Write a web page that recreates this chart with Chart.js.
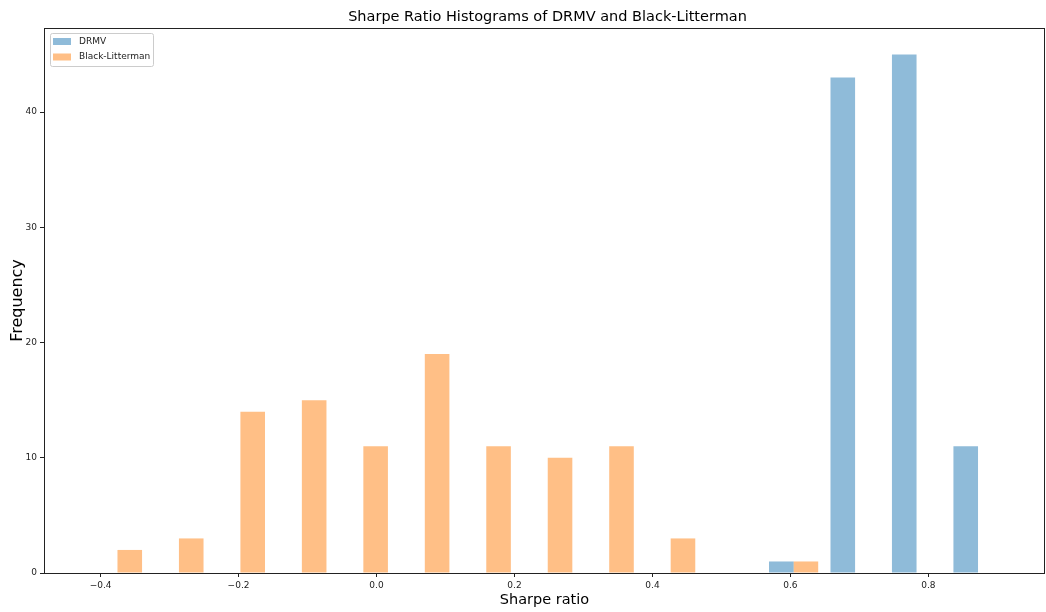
<!DOCTYPE html>
<html>
<head>
<meta charset="utf-8">
<script src="https://cdn.jsdelivr.net/npm/chart.js@4/dist/chart.umd.min.js"></script>
<style>
  html, body { margin: 0; padding: 0; background: #fff; }
  #wrap { width: 1046px; height: 612px; }
</style>
</head>
<body>
<div id="wrap"><canvas id="hist"></canvas></div>
<script>
// bin centres of the shared histogram bins (Sharpe ratio)
const binCenters = [-0.3755, -0.2864, -0.1973, -0.1082, -0.0191, 0.0700, 0.1591, 0.2482,
                    0.3373, 0.4264, 0.5155, 0.6046, 0.6937, 0.7828, 0.8719];
// counts per bin
const drmvCounts = [0, 0, 0, 0, 0, 0, 0, 0, 0, 0, 0, 1, 43, 45, 11];
const blCounts   = [2, 3, 14, 15, 11, 19, 11, 10, 11, 3, 0, 1, 0, 0, 0];
const seriesNames = ['DRMV', 'Black-Litterman'];
const xTickStep = 0.2;
const yTickStep = 10;

const FONT = "'DejaVu Sans', sans-serif";
const blue = 'rgba(31, 119, 180, 0.5)';
const orange = 'rgba(255, 127, 14, 0.5)';

const toPoints = (counts) => binCenters.map((x, i) => ({ x: x, y: counts[i] }));

// title, frame and legend drawn on top (matplotlib style)
const decorPlugin = {
    id: 'decor',
    afterDraw(chart) {
        const { ctx, chartArea: { left, right, top, bottom } } = chart;
        ctx.save();
        // frame
        ctx.strokeStyle = '#222';
        ctx.lineWidth = 1;
        ctx.strokeRect(left + 0.5, top + 0.5, right - left - 1, bottom - top);
        // title
        ctx.fillStyle = '#000';
        ctx.font = '14.5px ' + FONT;
        ctx.textAlign = 'center';
        ctx.textBaseline = 'middle';
        ctx.fillText('Sharpe Ratio Histograms of DRMV and Black-Litterman', (left + right) / 2 + 3, 17);
        // legend
        const lx = left + 6, ly = top + 5, lw = 103, lh = 33;
        ctx.beginPath();
        ctx.roundRect(lx + 0.5, ly + 0.5, lw, lh, 2);
        ctx.fillStyle = 'rgba(255,255,255,0.8)';
        ctx.fill();
        ctx.strokeStyle = '#cccccc';
        ctx.stroke();
        const colors = [blue, orange];
        ctx.font = '9px ' + FONT;
        ctx.textAlign = 'left';
        seriesNames.forEach((name, i) => {
            const cy = ly + 8.5 + i * 15.5;
            ctx.fillStyle = colors[i];
            ctx.fillRect(lx + 3, cy - 3.5, 18, 7);
            ctx.fillStyle = '#222';
            ctx.fillText(name, lx + 29, cy);
        });
        ctx.restore();
    }
};

new Chart(document.getElementById('hist'), {
    type: 'bar',
    data: {
        datasets: [
            { label: seriesNames[0], data: toPoints(drmvCounts), backgroundColor: blue, borderWidth: 0 },
            { label: seriesNames[1], data: toPoints(blCounts), backgroundColor: orange, borderWidth: 0 }
        ]
    },
    options: {
        responsive: true,
        maintainAspectRatio: false,
        animation: false,
        layout: { padding: { top: 28, right: 1, left: 0, bottom: 0 } },
        datasets: { bar: { categoryPercentage: 0.8, barPercentage: 1.0, grouped: true } },
        plugins: {
            legend: { display: false },
            title: { display: false },
            tooltip: { enabled: false }
        },
        scales: {
            x: {
                type: 'linear',
                min: -0.482,
                max: 0.969,
                offset: false,
                afterFit: (s) => { s.height = 39; },
                grid: { offset: false, drawOnChartArea: false, drawTicks: true, tickLength: 4, color: '#222' },
                border: { display: false },
                ticks: {
                    stepSize: xTickStep,
                    includeBounds: false,
                    padding: 3,
                    color: '#222',
                    font: { family: FONT, size: 9 },
                    maxRotation: 0,
                    callback: (v) => (v < -1e-9 ? '\u2212' : '') + Math.abs(v).toFixed(1)
                },
                title: {
                    display: true,
                    text: 'Sharpe ratio',
                    color: '#000',
                    font: { family: FONT, size: 14.5 },
                    padding: { top: 0, bottom: 3 }
                }
            },
            y: {
                min: 0,
                max: 47.3,
                afterFit: (s) => { s.width = 44; },
                grid: { drawOnChartArea: false, drawTicks: true, tickLength: 4, color: '#222' },
                border: { display: false },
                ticks: {
                    stepSize: yTickStep,
                    includeBounds: false,
                    padding: 3,
                    color: '#222',
                    font: { family: FONT, size: 9 }
                },
                title: {
                    display: true,
                    text: 'Frequency',
                    color: '#000',
                    font: { family: FONT, size: 16 },
                    padding: { top: 8, bottom: 0 }
                }
            }
        }
    },
    plugins: [decorPlugin]
});
</script>
</body>
</html>
